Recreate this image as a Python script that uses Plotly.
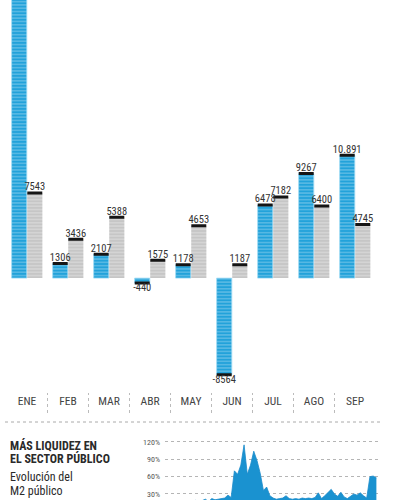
import plotly.graph_objects as go

months = ["ENE", "FEB", "MAR", "ABR", "MAY", "JUN", "JUL", "AGO", "SEP"]
blue_vals = [26000, 1306, 2107, -440, 1178, -8564, 6478, 9267, 10891]
gray_vals = [7543, 3436, 5388, 1575, 4653, 1187, 7182, 6400, 4745]

m2_pct = [15, 16, 14, 17, 15, 18, 16, 14, 17, 19, 16, 18, 21, 17, 22, 20,
          21, 22, 23, 28, 24, 70, 64, 80, 115, 64, 80, 104, 88, 66, 36, 42,
          27, 23, 21, 22, 23, 27, 22, 21, 22, 21, 23, 22, 23, 22, 24, 32,
          22, 27, 33, 38, 30, 26, 33, 25, 22, 26, 30, 28, 32, 27, 23, 60,
          61, 58]
pct_ticks = [30, 60, 90, 120]

BLUE = "#22a2da"
GRAY = "#c6c6c6"
FONT = "Liberation Sans Narrow, Roboto Condensed, Arial Narrow, Roboto, sans-serif"
W, H = 400, 500
ymin, ymax = -9300, 24660

def fmt(v):
    if v > ymax or v < ymin:
        return ""
    return f"{v:,}".replace(",", ".") if abs(v) >= 10000 else str(v)

off, bw = 0.19, 0.37
xb = [i - off for i in range(len(months))]
xg = [i + off for i in range(len(months))]

fig = go.Figure()
fig.add_trace(go.Bar(x=xb, y=blue_vals, width=bw,
                     marker=dict(color=BLUE, line=dict(color="rgba(160,220,245,0.8)", width=1),
                                 pattern=dict(shape="-", fgcolor="rgba(255,255,255,0.85)",
                                              bgcolor=BLUE, size=3.3, solidity=0.28)),
                     hoverinfo="skip", showlegend=False))
fig.add_trace(go.Bar(x=xg, y=gray_vals, width=bw,
                     marker=dict(color=GRAY, line=dict(width=0),
                                 pattern=dict(shape="-", fgcolor="rgba(255,255,255,0.9)",
                                              bgcolor=GRAY, size=3.3, solidity=0.28)),
                     hoverinfo="skip", showlegend=False))

allx = xb + xg
ally = blue_vals + gray_vals
fig.add_trace(go.Scatter(x=allx, y=ally, mode="markers",
                         marker=dict(symbol="line-ew", size=10.7,
                                     line=dict(color="#151515", width=3)),
                         hoverinfo="skip", showlegend=False))
fig.add_trace(go.Scatter(x=allx, y=ally, mode="text",
                         text=[fmt(v) for v in ally],
                         textposition=["top center" if v >= 0 else "bottom center" for v in ally],
                         textfont=dict(family=FONT, size=10.5, color="#333333"),
                         cliponaxis=False, hoverinfo="skip", showlegend=False))

fig.add_trace(go.Scatter(x=list(range(len(m2_pct))), y=m2_pct, mode="lines",
                         fill="tozeroy", fillcolor="#1a92d0",
                         line=dict(color="#1a8ccb", width=0.8),
                         xaxis="x2", yaxis="y2", hoverinfo="skip", showlegend=False))

fig.update_layout(
    width=W, height=H, margin=dict(l=0, r=0, t=0, b=0),
    paper_bgcolor="white", plot_bgcolor="rgba(0,0,0,0)",
    barmode="overlay",
    xaxis=dict(domain=[6.5 / W, 375.5 / W], range=[-0.5, 8.5],
               tickvals=list(range(len(months))), ticktext=months,
               tickfont=dict(family=FONT, size=11.5, color="#444444"),
               showgrid=False, zeroline=False, showline=False, ticks="",
               ticklabelstandoff=9, fixedrange=True),
    yaxis=dict(domain=[1 - 383 / H, 1], range=[ymin, ymax], visible=False,
               showgrid=False, zeroline=False, fixedrange=True),
    xaxis2=dict(domain=[165 / W, 378 / W], range=[-0.5, len(m2_pct) - 0.5],
                visible=False, anchor="y2", fixedrange=True),
    yaxis2=dict(domain=[0, 65 / H], range=[19.6, 132], anchor="x2",
                tickvals=pct_ticks, ticktext=[f"{t}%" for t in pct_ticks],
                tickfont=dict(family=FONT, size=8, color="#555555"),
                showgrid=True, gridcolor="#b5b5b5", griddash="dot", gridwidth=1,
                zeroline=False, showline=False, ticks="", ticklabelstandoff=4,
                fixedrange=True),
)

shapes = []
for i in range(len(months) - 1):
    shapes.append(dict(type="line", xref="x", yref="paper", x0=i + 0.5, x1=i + 0.5,
                       y0=1 - 413 / H, y1=1 - 393 / H,
                       line=dict(color="#bbbbbb", width=1, dash="dot")))
shapes.append(dict(type="line", xref="paper", yref="paper", x0=5 / W, x1=380 / W,
                   y0=1 - 422 / H, y1=1 - 422 / H,
                   line=dict(color="#aaaaaa", width=1, dash="dot")))
fig.update_layout(shapes=shapes)

texts = [("<b>MÁS LIQUIDEZ EN</b>", 445), ("<b>EL SECTOR PÚBLICO</b>", 458),
         ("Evolución del", 477), ("M2 público", 491)]
fig.update_layout(annotations=[
    dict(text=t, xref="paper", yref="paper", x=8 / W, y=1 - yy / H,
         xanchor="left", yanchor="middle", showarrow=False,
         font=dict(family=FONT, size=12, color="#2a2a2a"))
    for t, yy in texts])

fig.write_html("out.html", config={"displayModeBar": False, "staticPlot": True},
               post_script="document.body.style.margin='0px';document.body.style.overflow='hidden';")
